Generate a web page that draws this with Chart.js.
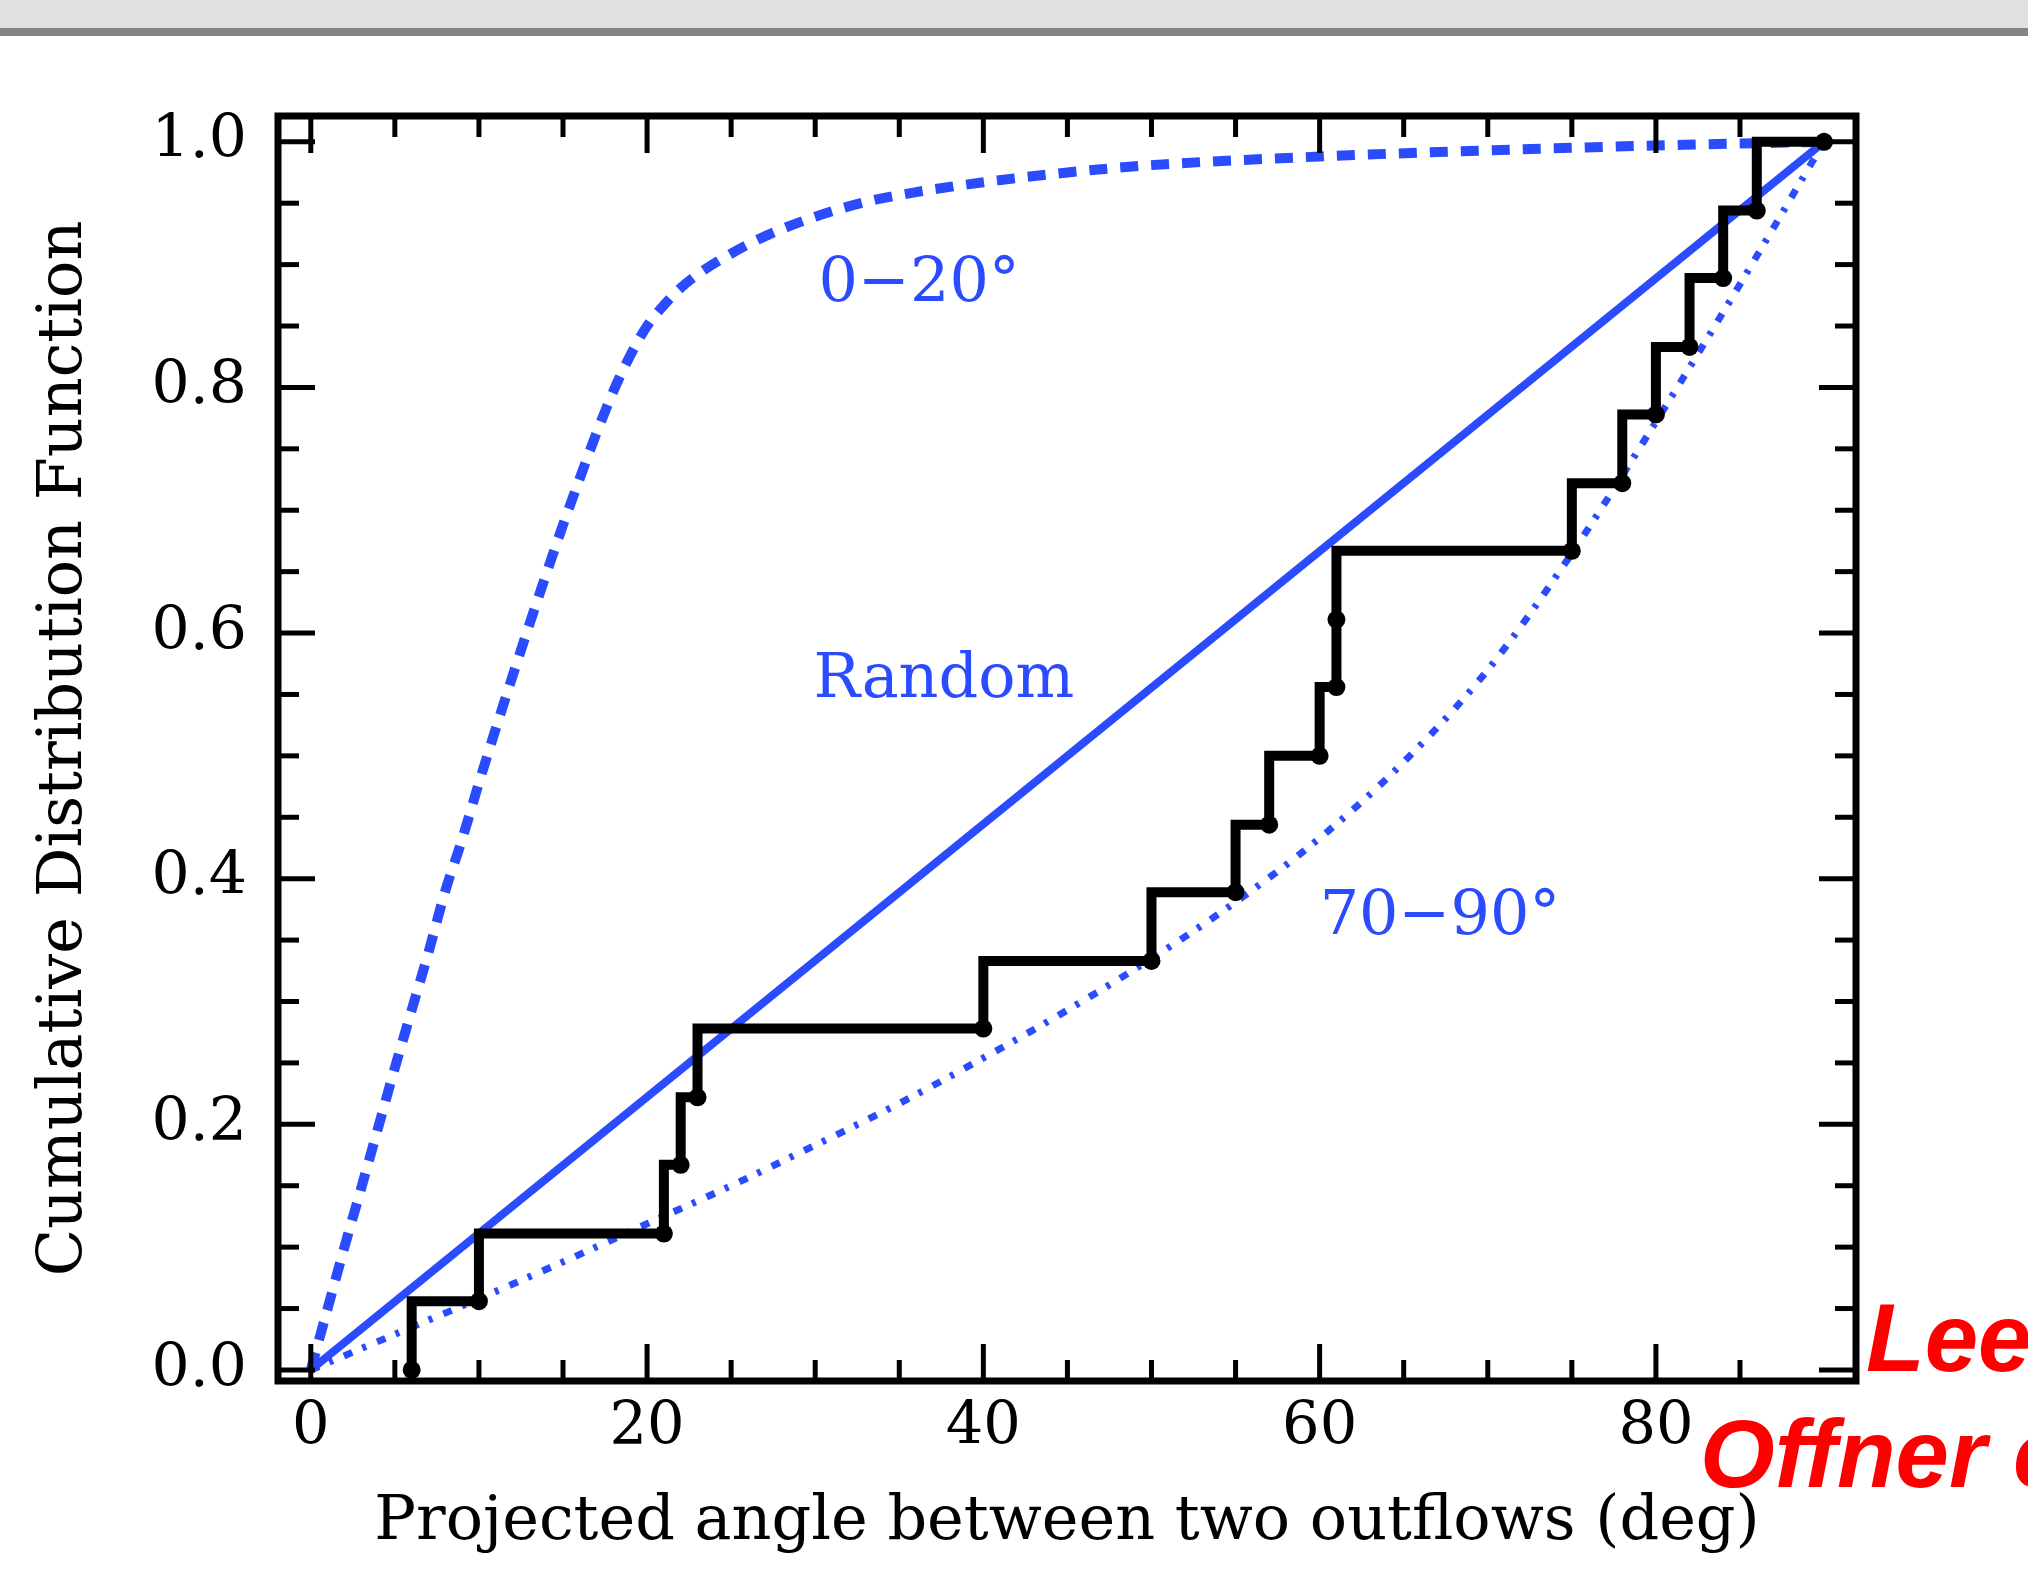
<!DOCTYPE html>
<html>
<head>
<meta charset="utf-8">
<script src="https://cdn.jsdelivr.net/npm/chart.js@4.4.1/dist/chart.umd.min.js"></script>
<style>
  html, body { margin: 0; padding: 0; background: #fff; }
  canvas { display: block; }
</style>
</head>
<body>
<canvas id="cdfChart" width="2028" height="1577"></canvas>
<script>
// measured outflow pairs: angle (deg) and cumulative fraction, one dot per step
const stepX = [6, 10, 21, 22, 23, 40, 50, 55, 57, 60, 61, 61, 75, 78, 80, 82, 84, 86, 90];
const stepY = [0, 0.056, 0.111, 0.167, 0.222, 0.278, 0.333, 0.389, 0.444, 0.5, 0.556, 0.611, 0.667, 0.722, 0.778, 0.833, 0.889, 0.944, 1.0];

// model curves
const randomX = [0, 90];
const randomY = [0, 1];

const lowX = [0, 1, 2, 3, 4, 5, 6, 7, 8, 9, 10, 11, 12, 13, 14, 15, 16, 17, 18, 19, 20, 21, 22, 23, 25, 27, 30, 33, 36, 40, 45, 50, 60, 70, 80, 90];
const lowY = [0, 0.05, 0.10, 0.148, 0.197, 0.246, 0.293, 0.34, 0.39, 0.432, 0.478, 0.522, 0.565, 0.607, 0.648, 0.688, 0.726, 0.763, 0.797, 0.826, 0.85, 0.867, 0.881, 0.892, 0.909, 0.923, 0.939, 0.951, 0.959, 0.967, 0.975, 0.981, 0.988, 0.993, 0.997, 1.0];

const highX = [0, 5, 10, 15, 20, 25, 30, 35, 40, 45, 50, 55, 60, 65, 70, 75, 80, 85, 90];
const highY = [0, 0.029, 0.058, 0.088, 0.119, 0.150, 0.183, 0.217, 0.254, 0.293, 0.335, 0.381, 0.433, 0.495, 0.57, 0.665, 0.772, 0.884, 1.0];

const xTicks = [0, 20, 40, 60, 80];
const yTicks = [0, 0.2, 0.4, 0.6, 0.8, 1.0];
const xMinor = [5, 10, 15, 25, 30, 35, 45, 50, 55, 65, 70, 75, 85];
const yMinor = [0.05, 0.1, 0.15, 0.25, 0.3, 0.35, 0.45, 0.5, 0.55, 0.65, 0.7, 0.75, 0.85, 0.9, 0.95];

const blue = '#2b4bff';
const serif = 'DejaVu Serif';

// curve labels, anchored in data units (left edge, baseline)
const curveNotes = [
  { text: '0\u221220\u00b0', x: 30.2, y: 0.87 },
  { text: 'Random', x: 29.9, y: 0.548 },
  { text: '70\u221290\u00b0', x: 60.0, y: 0.355 }
];

const toPts = (xs, ys) => xs.map((x, i) => ({ x: x, y: ys[i] }));

const framePlugin = {
  id: 'frame',
  afterDatasetsDraw(chart) {
    const ctx = chart.ctx;
    const { left, right, top, bottom } = chart.chartArea;
    const sx = chart.scales.x, sy = chart.scales.y;
    ctx.save();
    ctx.strokeStyle = '#000';
    ctx.lineCap = 'butt';
    const seg = (x1, y1, x2, y2) => { ctx.beginPath(); ctx.moveTo(x1, y1); ctx.lineTo(x2, y2); ctx.stroke(); };

    ctx.lineWidth = 5;
    xTicks.concat(xMinor).forEach(v => {
      const p = sx.getPixelForValue(v);
      const len = xTicks.includes(v) ? 37 : 21;
      seg(p, bottom, p, bottom - len);
      seg(p, top, p, top + len);
    });
    yTicks.concat(yMinor).forEach(v => {
      const p = sy.getPixelForValue(v);
      const len = yTicks.includes(v) ? 37 : 21;
      seg(left, p, left + len, p);
      seg(right, p, right - len, p);
    });

    ctx.lineWidth = 7;
    ctx.strokeRect(left, top, right - left, bottom - top);

    ctx.fillStyle = blue;
    ctx.font = '62px "' + serif + '"';
    ctx.textAlign = 'left';
    ctx.textBaseline = 'alphabetic';
    curveNotes.forEach(n => {
      ctx.fillText(n.text, sx.getPixelForValue(n.x), sy.getPixelForValue(n.y));
    });
    ctx.restore();
  },
  afterDraw(chart) {
    const ctx = chart.ctx;
    const { right, bottom } = chart.chartArea;
    ctx.save();
    // window strip at the top
    ctx.fillStyle = '#e0e0e0';
    ctx.fillRect(0, 0, chart.width, 28);
    ctx.fillStyle = '#858585';
    ctx.fillRect(0, 28, chart.width, 8);

    ctx.fillStyle = '#ff0000';
    ctx.font = 'italic bold 96px "Liberation Sans"';
    ctx.textAlign = 'left';
    ctx.textBaseline = 'alphabetic';
    ctx.fillText('Lee et al.', right + 10, bottom - 10);
    ctx.fillText('Offner et al.', right - 156, bottom + 106);
    ctx.restore();
  }
};

new Chart('cdfChart', {
  type: 'scatter',
  data: {
    datasets: [
      {
        data: toPts(stepX, stepY),
        showLine: true,
        stepped: 'after',
        borderColor: '#000',
        borderWidth: 10,
        pointRadius: 9,
        pointBackgroundColor: '#000',
        pointBorderWidth: 0
      },
      {
        data: toPts(randomX, randomY),
        showLine: true,
        borderColor: blue,
        borderWidth: 8,
        pointRadius: 0
      },
      {
        data: toPts(lowX, lowY),
        showLine: true,
        borderColor: blue,
        borderWidth: 10,
        borderDash: [18, 13],
        cubicInterpolationMode: 'monotone',
        pointRadius: 0
      },
      {
        data: toPts(highX, highY),
        showLine: true,
        borderColor: blue,
        borderWidth: 7,
        borderDash: [9, 11, 4, 12],
        cubicInterpolationMode: 'monotone',
        pointRadius: 0
      }
    ]
  },
  options: {
    responsive: false,
    animation: false,
    devicePixelRatio: 1,
    layout: { padding: { top: 116, right: 172, left: 0, bottom: 0 } },
    plugins: {
      legend: { display: false },
      tooltip: { enabled: false }
    },
    scales: {
      x: {
        type: 'linear',
        min: -1.95,
        max: 91.9,
        grid: { display: false, drawTicks: false },
        border: { display: false },
        afterBuildTicks: s => { s.ticks = xTicks.map(v => ({ value: v })); },
        afterFit: s => { s.height = 196; },
        ticks: {
          font: { family: serif, size: 59 },
          color: '#000',
          padding: 12,
          maxRotation: 0,
          autoSkip: false
        },
        title: {
          display: true,
          text: 'Projected angle between two outflows (deg)',
          font: { family: serif, size: 62 },
          color: '#000',
          padding: { top: 0, bottom: 17 }
        }
      },
      y: {
        type: 'linear',
        min: -0.009,
        max: 1.021,
        grid: { display: false, drawTicks: false },
        border: { display: false },
        afterBuildTicks: s => { s.ticks = yTicks.map(v => ({ value: v })); },
        afterFit: s => { s.width = 278; },
        ticks: {
          font: { family: serif, size: 60 },
          color: '#000',
          padding: 31,
          callback: v => v.toFixed(1)
        },
        title: {
          display: true,
          text: 'Cumulative Distribution Function',
          font: { family: serif, size: 62 },
          color: '#000',
          padding: { top: 28, bottom: 0 }
        }
      }
    }
  },
  plugins: [framePlugin]
});
</script>
</body>
</html>
